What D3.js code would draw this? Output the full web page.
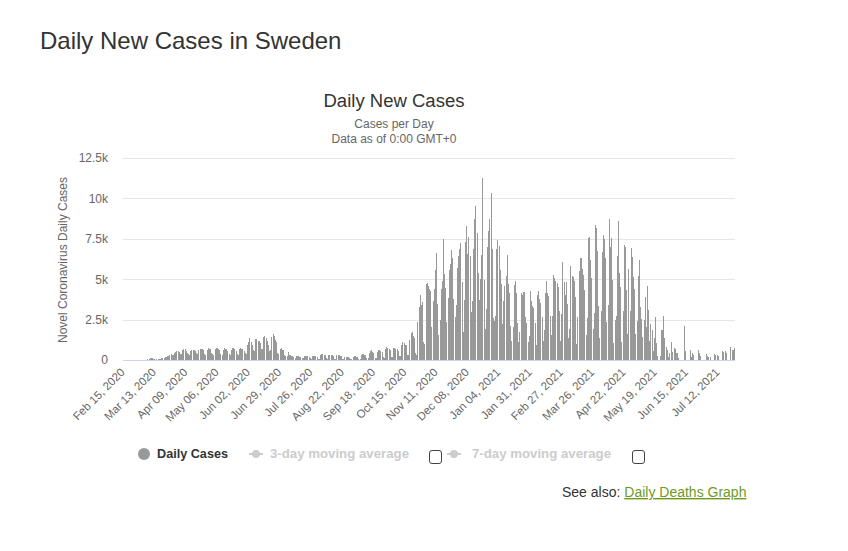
<!DOCTYPE html>
<html>
<head>
<meta charset="utf-8">
<script src="https://cdn.jsdelivr.net/npm/d3@7"></script>
<style>
  body { margin: 0; background: #fff; }
  svg { display: block; font-family: "Liberation Sans", Arial, sans-serif; }
</style>
</head>
<body>
<div id="chart"></div>
<script>
// first day of the series, one value per day after it
const startDate = "2020-02-15";

// Feb 15 2020 -> Nov 4 2020, one row per week (Sat..Fri)
const casesWave1 = [
  0, 0, 0, 0, 0, 0, 0,
  0, 0, 0, 0, 1, 0, 6,
  5, 1, 1, 1, 1, 3, 25,
  40, 60, 110, 120, 110, 90, 80,
  40, 30, 40, 80, 90, 100, 110,
  140, 160, 200, 230, 260, 300, 350,
  300, 280, 420, 480, 540, 560, 520,
  400, 380, 640, 690, 650, 560, 460,
  380, 320, 560, 620, 640, 600, 540,
  420, 350, 600, 690, 700, 680, 620,
  380, 320, 640, 730, 700, 660, 430,
  360, 300, 650, 730, 720, 680, 600,
  400, 330, 640, 720, 700, 650, 580,
  380, 320, 620, 730, 720, 660, 560,
  360, 300, 650, 740, 700, 650, 570,
  420, 380, 900, 1140, 1350, 1100, 900,
  600, 540, 1290, 1300, 1200, 1150, 1050,
  700, 650, 1400, 1460, 1350, 1200, 900,
  550, 600, 1450, 1620, 1500, 1250, 1130,
  420, 360, 660, 720, 620, 600, 300,
  250, 230, 500, 320, 280, 260, 240,
  180, 150, 250, 260, 230, 200, 180,
  120, 100, 240, 260, 250, 220, 180,
  100, 80, 220, 250, 240, 220, 200,
  90, 70, 300, 370, 350, 330, 280,
  100, 80, 310, 320, 300, 280, 250,
  90, 80, 300, 310, 290, 260, 220,
  80, 60, 160, 200, 180, 170, 150,
  70, 60, 200, 250, 230, 210, 190,
  90, 80, 300, 370, 350, 320, 280,
  120, 100, 450, 560, 620, 520, 430,
  150, 130, 520, 620, 600, 560, 500,
  180, 150, 700, 830, 760, 660, 600,
  200, 180, 720, 720, 700, 650, 580,
  250, 220, 900, 1100, 1050, 950, 900,
  300, 280, 1250, 1660, 1750, 1500, 1350,
  450, 310, 2370, 3300, 4000, 3400, 3570,
  1100, 1000, 4700, 4740, 4600
];

// Nov 5 2020 -> Mar 16 2021
const casesWave2 = [
  4400, 4300, 2060, 3670, 4400, 5570, 6600, 3470, 1550, 2480,
  4370, 4890, 7470, 5320, 4430, 2350, 3840, 5570, 5940, 6800,
  6300, 3770, 2680, 3400, 5670, 6440, 6870, 7220, 4830, 1750,
  3710, 7280, 8290, 6540, 7630, 6440, 2970, 3670, 6890, 8750,
  9530, 7840, 5360, 3710, 5010, 6500, 11260, 4950, 1920, 3140,
  7010, 8000, 8750, 10340, 6890, 2580, 2430, 2740, 6870, 7430,
  7080, 5570, 4700, 2230, 3630, 4580, 5200, 6500, 4700, 4130,
  2100, 1180, 2060, 4640, 4890, 4130, 2310, 1130, 1750, 4130,
  4020, 4200, 4210, 2680, 2310, 1130, 1490, 4290, 3670, 3340,
  3200, 2270, 930, 4020, 4270, 3770, 3510, 2680, 1200, 1860,
  4170, 4890, 4130, 3960, 2740, 1550, 2720, 5260, 5100, 4910,
  4750, 4540, 3030, 1200, 2850, 6040, 4850, 4020, 4850, 3450,
  1380, 1920, 5820, 5200, 5120, 4910, 3920, 990, 2680, 5530,
  6290, 6290
];

// Mar 17 2021 -> Jun 7 2021
const casesWave3 = [
  5630, 5260, 4330, 1550, 2620, 7530, 7590, 6190, 5100, 1920,
  2930, 8350, 8150, 6770, 3360, 1380, 3010, 6700, 7740, 7470,
  6330, 2350, 3400, 8730, 7010, 7570, 4950, 1070, 2480, 2720,
  6440, 8600, 5400, 4540, 1090, 3030, 7120, 7010, 4330, 1610,
  5630, 3030, 6910, 6350, 5120, 4390, 1610, 2430, 5200, 6190,
  3300, 2520, 1400, 2480, 3920, 2060, 4580, 3090, 1180, 2230,
  1860, 560, 1340, 2640, 1070, 250, 0, 250, 1860, 1860,
  2720, 1340, 830, 620, 210, 410, 0, 1110, 520, 720,
  680, 450, 450
];

// Jun 8 2021 -> Jul 26 2021, one row per week
const casesSummer = [
  100, 0, 0, 0, 0, 2100, 560,
  0, 0, 0, 620, 200, 450, 310,
  0, 0, 0, 620, 410, 250, 0,
  0, 0, 0, 370, 250, 210, 210,
  0, 0, 0, 350, 310, 310, 270,
  0, 0, 0, 580, 470, 540, 410,
  0, 0, 0, 830, 600, 620, 760
];

const dailyCases = casesWave1.concat(casesWave2, casesWave3, casesSummer);

const xTickLabels = [
  "Feb 15, 2020", "Mar 13, 2020", "Apr 09, 2020", "May 06, 2020", "Jun 02, 2020",
  "Jun 29, 2020", "Jul 26, 2020", "Aug 22, 2020", "Sep 18, 2020", "Oct 15, 2020",
  "Nov 11, 2020", "Dec 08, 2020", "Jan 04, 2021", "Jan 31, 2021", "Feb 27, 2021",
  "Mar 26, 2021", "Apr 22, 2021", "May 19, 2021", "Jun 15, 2021", "Jul 12, 2021"
];
const yTicks = [0, 2500, 5000, 7500, 10000, 12500];
const yTickLabels = ["0", "2.5k", "5k", "7.5k", "10k", "12.5k"];

const legendItems = ["Daily Cases", "3-day moving average", "7-day moving average"];

// categories = one date string per value
const parseDay = d3.timeParse("%Y-%m-%d");
const fmtDay = d3.timeFormat("%b %d, %Y");
const categories = dailyCases.map((v, i) => fmtDay(d3.timeDay.offset(parseDay(startDate), i)));

const width = 848, height = 551;
const plot = { left: 123, right: 735, top: 158, bottom: 360 };

const svg = d3.select("#chart").append("svg")
  .attr("width", width)
  .attr("height", height);

svg.append("rect").attr("width", width).attr("height", height).attr("fill", "#fff");

// page heading
svg.append("text")
  .attr("x", 40).attr("y", 49)
  .attr("font-size", 24)
  .attr("fill", "#333")
  .text("Daily New Cases in Sweden");

// chart titles
const cx = 394;
svg.append("text").attr("x", cx).attr("y", 107).attr("text-anchor", "middle")
  .attr("font-size", 18).attr("fill", "#333")
  .attr("textLength", 141).attr("lengthAdjust", "spacingAndGlyphs")
  .text("Daily New Cases");
svg.append("text").attr("x", cx).attr("y", 128).attr("text-anchor", "middle")
  .attr("font-size", 12).attr("fill", "#666").text("Cases per Day");
svg.append("text").attr("x", cx).attr("y", 143).attr("text-anchor", "middle")
  .attr("font-size", 12).attr("fill", "#666").text("Data as of 0:00 GMT+0");

const x = d3.scaleBand()
  .domain(categories)
  .range([plot.left, plot.right])
  .padding(0);

const y = d3.scaleLinear()
  .domain([0, 12500])
  .range([plot.bottom, plot.top]);

// grid
svg.append("g")
  .selectAll("line")
  .data(yTicks.slice(1))
  .join("line")
  .attr("x1", plot.left).attr("x2", plot.right)
  .attr("y1", d => Math.round(y(d)) + 0.5)
  .attr("y2", d => Math.round(y(d)) + 0.5)
  .attr("stroke", "#e6e6e6");

// y labels
const yAxis = d3.axisLeft(y)
  .tickValues(yTicks)
  .tickFormat((d, i) => yTickLabels[i])
  .tickSize(0)
  .tickPadding(0);

const gy = svg.append("g")
  .attr("transform", `translate(${plot.left - 15},0)`)
  .call(yAxis);
gy.select(".domain").remove();
gy.selectAll("text")
  .attr("font-family", "Liberation Sans, Arial, sans-serif")
  .attr("font-size", 12)
  .attr("fill", "#666");

svg.append("text")
  .attr("transform", `translate(67,${(plot.top + plot.bottom) / 2 + 1}) rotate(-90)`)
  .attr("text-anchor", "middle")
  .attr("font-size", 12)
  .attr("fill", "#666")
  .text("Novel Coronavirus Daily Cases");

// bars, 1px wide at rounded positions like the original renderer
svg.append("g")
  .selectAll("rect")
  .data(dailyCases)
  .join("rect")
  .attr("x", (d, i) => Math.round(x(categories[i]) + x.bandwidth() / 2 - 0.5))
  .attr("width", 1)
  .attr("y", d => Math.round(y(d)))
  .attr("height", d => plot.bottom - Math.round(y(d)))
  .attr("fill", "#999");

// x axis
const xAxis = d3.axisBottom(x)
  .tickValues(xTickLabels)
  .tickSize(0)
  .tickPadding(0);

const gx = svg.append("g")
  .attr("transform", `translate(0,${plot.bottom})`)
  .call(xAxis);
gx.select(".domain")
  .attr("d", `M${plot.left},0.5H${plot.right}`)
  .attr("stroke", "#ccd6eb");
gx.selectAll(".tick text")
  .attr("font-family", "Liberation Sans, Arial, sans-serif")
  .attr("font-size", 11.5)
  .attr("fill", "#666")
  .attr("text-anchor", "end")
  .attr("dy", null)
  .attr("y", 0)
  .attr("transform", "translate(2,13) rotate(-45)");

// legend
const legend = svg.append("g").attr("font-size", 12).attr("font-weight", "bold");
legend.append("circle").attr("cx", 144).attr("cy", 454).attr("r", 6).attr("fill", "#999");
legend.append("text").attr("x", 157).attr("y", 458).attr("fill", "#333")
  .attr("textLength", 71).attr("lengthAdjust", "spacingAndGlyphs")
  .text(legendItems[0]);

const hiddenItems = [
  { sx: 249, tx: 270, box: 429, label: legendItems[1] },
  { sx: 447, tx: 472, box: 632, label: legendItems[2] }
];
hiddenItems.forEach(it => {
  legend.append("line").attr("x1", it.sx).attr("x2", it.sx + 14)
    .attr("y1", 454).attr("y2", 454).attr("stroke", "#ccc").attr("stroke-width", 2);
  legend.append("circle").attr("cx", it.sx + 7).attr("cy", 454).attr("r", 4).attr("fill", "#ccc");
  legend.append("text").attr("x", it.tx).attr("y", 458).attr("fill", "#ccc")
    .attr("textLength", 139).attr("lengthAdjust", "spacingAndGlyphs")
    .text(it.label);
  legend.append("rect").attr("x", it.box + 0.5).attr("y", 450.5).attr("width", 12).attr("height", 13)
    .attr("rx", 2.5).attr("fill", "#fff").attr("stroke", "#444");
});

// see also line
const see = svg.append("text").attr("x", 562).attr("y", 497).attr("font-size", 14).attr("fill", "#333");
see.append("tspan").text("See also: ");
see.append("tspan").attr("fill", "#6f9a1f").attr("text-decoration", "underline").text("Daily Deaths Graph");
</script>
</body>
</html>
